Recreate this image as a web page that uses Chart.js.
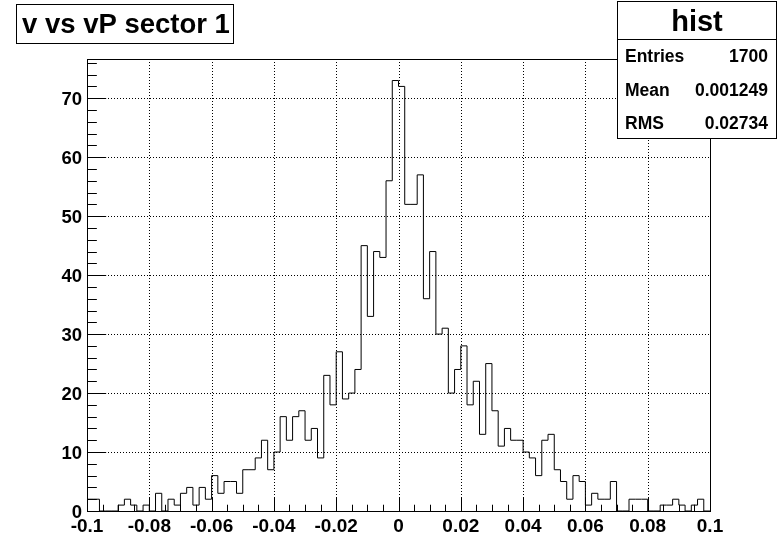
<!DOCTYPE html>
<html>
<head>
<meta charset="utf-8">
<script src="https://cdn.jsdelivr.net/npm/chart.js@4/dist/chart.umd.min.js"></script>
<style>
html,body{margin:0;padding:0;background:#fff;}
canvas{display:block;}
</style>
</head>
<body>
<canvas id="c" width="778" height="536"></canvas>
<script>
// Histogram "hist": 100 equal bins over [-0.1, 0.1]
const xMin = -0.1;
const xMax = 0.1;
const nBins = 100;
const counts = [
  2, 2, 0, 0, 0, 1, 2, 1, 0, 1,
  0, 3, 0, 2, 1, 3, 4, 1, 4, 2,
  6, 3, 5, 5, 3, 7, 7, 9, 12, 7,
  10, 16, 12, 16, 17, 12, 14, 9, 23, 18,
  27, 19, 20, 24, 45, 33, 44, 43, 56, 73,
  72, 52, 52, 57, 36, 44, 30, 31, 20, 24,
  28, 18, 22, 13, 25, 17, 11, 14, 12, 12,
  10, 9, 6, 12, 13, 7, 5, 2, 6, 5,
  1, 3, 2, 2, 5, 0, 0, 2, 2, 2,
  0, 0, 1, 1, 2, 1, 0, 1, 2, 0
];
const yMax = 76.65;

// axis divisions and labels
const xTickValues = [-0.1, -0.08, -0.06, -0.04, -0.02, 0, 0.02, 0.04, 0.06, 0.08, 0.1];
const xTickLabels = ['-0.1', '-0.08', '-0.06', '-0.04', '-0.02', '0', '0.02', '0.04', '0.06', '0.08', '0.1'];
const xMinorStep = 0.005;
const yTickValues = [0, 10, 20, 30, 40, 50, 60, 70];
const yTickLabels = ['0', '10', '20', '30', '40', '50', '60', '70'];
const yMinorStep = 2;

// title and statistics box text
const titleText = 'v vs vP sector 1';
const statsName = 'hist';
const statsLabels = ['Entries', 'Mean', 'RMS'];
const statsValues = ['1700', '0.001249', '0.02734'];

const FONT = '"Liberation Sans", Arial, Helvetica, sans-serif';

// outline of the histogram as a stepped line through the bin edges
const binWidth = (xMax - xMin) / nBins;
const outline = [{x: xMin, y: 0}];
counts.forEach((n, i) => outline.push({x: xMin + i * binWidth, y: n}));
outline.push({x: xMax, y: counts[nBins - 1]});
outline.push({x: xMax, y: 0});

function px(v) { return Math.round(v) + 0.5; }

const rootFrame = {
  id: 'rootFrame',
  beforeDatasetsDraw(chart) {
    const ctx = chart.ctx, a = chart.chartArea;
    const sx = chart.scales.x, sy = chart.scales.y;
    ctx.save();
    ctx.strokeStyle = '#000';
    ctx.lineWidth = 1;
    ctx.setLineDash([1, 2]);
    ctx.beginPath();
    xTickValues.forEach(v => {
      const X = px(sx.getPixelForValue(v));
      ctx.moveTo(X, a.top); ctx.lineTo(X, a.bottom);
    });
    yTickValues.forEach(v => {
      const Y = px(sy.getPixelForValue(v));
      ctx.moveTo(a.left, Y); ctx.lineTo(a.right, Y);
    });
    ctx.stroke();
    ctx.restore();
  },
  afterDatasetsDraw(chart) {
    const ctx = chart.ctx, a = chart.chartArea;
    const sx = chart.scales.x, sy = chart.scales.y;
    const L = px(a.left), R = px(a.right), T = px(a.top), B = px(a.bottom);
    ctx.save();
    ctx.strokeStyle = '#000';
    ctx.lineWidth = 1;
    ctx.setLineDash([]);
    // frame
    ctx.strokeRect(L, T, R - L, B - T);

    // tick marks pointing into the frame
    const xMajorLen = 0.03 * (a.bottom - a.top);
    const yMajorLen = 0.03 * (a.right - a.left);
    ctx.beginPath();
    for (let v = xMin; v <= xMax + 1e-9; v += xMinorStep) {
      const X = px(sx.getPixelForValue(v));
      ctx.moveTo(X, B); ctx.lineTo(X, B - xMajorLen / 2);
    }
    xTickValues.forEach(v => {
      const X = px(sx.getPixelForValue(v));
      ctx.moveTo(X, B); ctx.lineTo(X, B - xMajorLen);
    });
    for (let v = 0; v <= yMax; v += yMinorStep) {
      const Y = px(sy.getPixelForValue(v));
      ctx.moveTo(L, Y); ctx.lineTo(L + yMajorLen / 2, Y);
    }
    yTickValues.forEach(v => {
      const Y = px(sy.getPixelForValue(v));
      ctx.moveTo(L, Y); ctx.lineTo(L + yMajorLen, Y);
    });
    ctx.stroke();

    // tick labels
    ctx.fillStyle = '#000';
    ctx.font = 'bold 18.5px ' + FONT;
    ctx.textBaseline = 'alphabetic';
    ctx.textAlign = 'right';
    yTickValues.forEach((v, i) => {
      ctx.fillText(yTickLabels[i], a.left - 5, sy.getPixelForValue(v) + 6.6);
    });
    ctx.font = 'bold 19px ' + FONT;
    ctx.textAlign = 'center';
    xTickValues.forEach((v, i) => {
      ctx.fillText(xTickLabels[i], sx.getPixelForValue(v), 531.5);
    });

    // title box
    ctx.fillStyle = '#fff';
    ctx.fillRect(16.5, 4.5, 217, 39);
    ctx.strokeRect(16.5, 4.5, 217, 39);
    ctx.fillStyle = '#000';
    ctx.textAlign = 'left';
    ctx.font = 'bold 27.5px ' + FONT;
    ctx.fillText(titleText, 22, 33);

    // statistics box
    ctx.fillStyle = '#fff';
    ctx.fillRect(617.5, 1.5, 159, 137);
    ctx.strokeRect(617.5, 1.5, 159, 137);
    ctx.beginPath();
    ctx.moveTo(617.5, 39.5); ctx.lineTo(776.5, 39.5);
    ctx.stroke();
    ctx.fillStyle = '#000';
    ctx.textAlign = 'center';
    ctx.font = 'bold 29px ' + FONT;
    ctx.fillText(statsName, 697, 31);
    ctx.font = 'bold 17.5px ' + FONT;
    const rowY = [62, 96, 129];
    statsLabels.forEach((lab, i) => {
      ctx.textAlign = 'left';
      ctx.fillText(lab, 625, rowY[i]);
      ctx.textAlign = 'right';
      ctx.fillText(statsValues[i], 768, rowY[i]);
    });
    ctx.restore();
  }
};

new Chart(document.getElementById('c'), {
  type: 'line',
  data: {
    datasets: [{
      label: statsName,
      data: outline,
      stepped: 'before',
      borderColor: '#000',
      borderWidth: 1,
      pointRadius: 0,
      fill: false,
      tension: 0
    }]
  },
  options: {
    responsive: false,
    animation: false,
    devicePixelRatio: 1,
    layout: {padding: {left: 87, top: 59, right: 68, bottom: 25}},
    plugins: {legend: {display: false}, tooltip: {enabled: false}, title: {display: false}},
    scales: {
      x: {type: 'linear', min: xMin, max: xMax, display: false},
      y: {type: 'linear', min: 0, max: yMax, display: false}
    }
  },
  plugins: [rootFrame]
});
</script>
</body>
</html>
